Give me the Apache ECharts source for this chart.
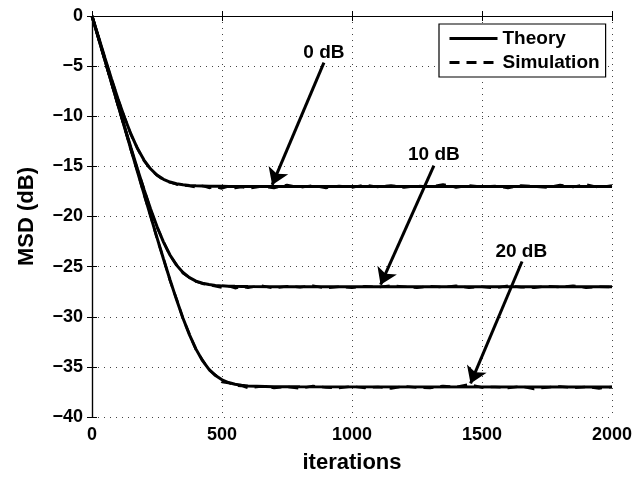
<!DOCTYPE html>
<html>
<head>
<meta charset="utf-8">
<script src="https://cdn.jsdelivr.net/npm/echarts@6/dist/echarts.min.js"></script>
<style>
html,body{margin:0;padding:0;background:#fff;}
#c{width:644px;height:479px;}
</style>
</head>
<body>
<div id="c"></div>
<script>
// ---- data ----
var xTicks = [0, 500, 1000, 1500, 2000];
var yTicks = [0, -5, -10, -15, -20, -25, -30, -35, -40];

var theoryIter = [0,25,50,75,100,125,150,175,200,225,250,275,300,325,350,375,400,425,450,475,500,525,550,575,600,700,800,2000];
var theory0dB  = [0,-2.08,-4.21,-6.29,-8.27,-10.13,-11.79,-13.22,-14.37,-15.24,-15.87,-16.29,-16.56,-16.73,-16.84,-16.90,-16.94,-16.96,-16.98,-16.99,-16.99,-17.00,-17.00,-17.00,-17.00,-17.00,-17.00,-17.00];
var theory10dB = [0,-2.21,-4.43,-6.64,-8.83,-11.01,-13.17,-15.27,-17.31,-19.23,-21.00,-22.55,-23.84,-24.85,-25.59,-26.10,-26.44,-26.66,-26.79,-26.87,-26.92,-26.95,-26.97,-26.98,-26.99,-27.00,-27.00,-27.00];
var theory20dB = [0,-2.22,-4.45,-6.67,-8.89,-11.11,-13.33,-15.54,-17.75,-19.94,-22.11,-24.24,-26.31,-28.29,-30.15,-31.81,-33.23,-34.38,-35.25,-35.87,-36.29,-36.56,-36.73,-36.84,-36.90,-36.98,-36.99,-37.00];

var simIter = [0,25,50,75,100,125,150,175,200,225,250,275,300,325,350,375,400,425,450,475,500,525,550,575,600,
  650,700,750,800,850,900,950,1000,1050,1100,1150,1200,1250,1300,1350,1400,1450,1500,1550,1600,1650,1700,1750,1800,1850,1900,1950,2000];
var sim0dB = [0,-2.1,-4.25,-6.3,-8.3,-10.1,-11.85,-13.2,-14.45,-15.3,-15.9,-16.35,-16.6,-16.8,-16.9,-16.95,-17.1,-16.95,-17.15,-17.05,-17.2,-17.0,-17.15,-17.05,-17.2,
  -17.0,-17.15,-16.85,-17.1,-16.9,-17.15,-16.95,-17.1,-16.85,-17.05,-16.9,-17.1,-16.95,-17.05,-16.8,-17.1,-16.9,-17.05,-16.95,-17.15,-16.9,-17.0,-17.1,-16.85,-17.05,-16.8,-17.1,-16.9];
var sim10dB = [0,-2.25,-4.4,-6.7,-8.8,-11.05,-13.2,-15.3,-17.25,-19.3,-21.05,-22.5,-23.9,-24.8,-25.65,-26.1,-26.5,-26.7,-26.85,-26.95,-27.1,-26.95,-27.15,-27.0,-27.1,
  -26.9,-27.15,-26.95,-27.05,-26.9,-27.15,-27.0,-27.1,-26.95,-27.05,-26.9,-27.0,-27.1,-26.95,-27.05,-26.9,-27.1,-27.0,-27.15,-26.9,-27.05,-27.1,-26.95,-27.05,-26.9,-27.1,-27.0,-27.05];
var sim20dB = [0,-2.2,-4.5,-6.65,-8.95,-11.1,-13.4,-15.5,-17.8,-19.9,-22.2,-24.2,-26.4,-28.2,-30.2,-31.75,-33.3,-34.3,-35.3,-35.8,-36.5,-36.6,-36.85,-36.9,-37.1,
  -36.95,-37.1,-37.0,-37.15,-36.9,-37.05,-37.1,-36.95,-37.1,-37.0,-37.15,-36.95,-37.05,-37.1,-36.9,-37.0,-36.75,-37.05,-37.0,-37.1,-36.95,-37.2,-37.05,-36.95,-37.1,-37.0,-37.15,-37.0];

var annotText  = ['0 dB', '10 dB', '20 dB'];
var annotTextAt = [[892, -3.66], [1315, -13.86], [1651, -23.5]];
var arrowFrom  = [[892, -4.65], [1315, -14.92], [1654, -24.49]];
var arrowTo    = [[693, -16.85], [1110, -26.8], [1456, -36.65]];

var legendNames = ['Theory', 'Simulation'];

// ---- chart ----
function pairs(xs, ys) { return xs.map(function (x, i) { return [x, ys[i]]; }); }
var FONT = 'Liberation Sans, Arial, Helvetica, sans-serif';
var chart = echarts.init(document.getElementById('c'), null, { renderer: 'canvas' });

function theorySeries(ys) {
  return { type: 'line', name: legendNames[0], data: pairs(theoryIter, ys), showSymbol: false, symbol: 'none',
    lineStyle: { color: '#000', width: 3 }, itemStyle: { color: '#000' }, silent: true, z: 3 };
}
function simSeries(ys) {
  return { type: 'line', name: legendNames[1], data: pairs(simIter, ys), showSymbol: false, symbol: 'none',
    lineStyle: { color: '#000', width: 2.5, type: [10, 7] }, itemStyle: { color: '#000' }, silent: true, z: 4 };
}

var axisLine = { show: true, lineStyle: { color: '#000', width: 1.2 } };
var gridLine = { show: true, lineStyle: { color: '#444', width: 1, type: [1, 5] } };
var tickIn = { show: true, inside: true, length: 5, lineStyle: { color: '#000', width: 1 } };
var labStyle = { color: '#000', fontFamily: FONT, fontWeight: 'bold', fontSize: 18 };

var option = {
  animation: false,
  backgroundColor: '#fff',
  grid: { left: 92, right: 32, top: 16, bottom: 59, containLabel: false },
  legend: {
    data: legendNames, orient: 'vertical', left: 439, top: 24,
    itemWidth: 48, itemHeight: 14, itemGap: 5,
    padding: [5, 6, 5, 9],
    borderColor: '#000', borderWidth: 1.2, backgroundColor: '#fff',
    itemStyle: { opacity: 0 },
    lineStyle: { width: 3 },
    textStyle: { color: '#000', fontFamily: FONT, fontWeight: 'bold', fontSize: 19 },
    selectedMode: false
  },
  xAxis: [{
    type: 'value', min: 0, max: 2000, interval: 500, position: 'bottom',
    name: 'iterations', nameLocation: 'middle', nameGap: 35,
    nameTextStyle: { color: '#000', fontFamily: FONT, fontWeight: 'bold', fontSize: 22 },
    axisLine: axisLine, axisTick: tickIn, splitLine: gridLine,
    axisLabel: Object.assign({ margin: 9, formatter: function (v) { return xTicks.indexOf(v) >= 0 ? String(v) : ''; } }, labStyle)
  }, {
    type: 'value', min: 0, max: 2000, interval: 500, position: 'top',
    axisLine: axisLine, axisTick: tickIn, splitLine: { show: false }, axisLabel: { show: false }
  }],
  yAxis: [{
    type: 'value', min: -40, max: 0, interval: 5, position: 'left',
    name: 'MSD (dB)', nameLocation: 'middle', nameGap: 54, nameRotate: 90,
    nameTextStyle: { color: '#000', fontFamily: FONT, fontWeight: 'bold', fontSize: 22 },
    axisLine: axisLine, axisTick: tickIn, splitLine: gridLine,
    axisLabel: Object.assign({ margin: 9, formatter: function (v) {
      if (yTicks.indexOf(v) < 0) return '';
      return v < 0 ? '\u2212' + Math.abs(v) : String(v);
    } }, labStyle)
  }, {
    type: 'value', min: -40, max: 0, interval: 5, position: 'right',
    axisLine: axisLine, axisTick: tickIn, splitLine: { show: false }, axisLabel: { show: false }
  }],
  series: [
    theorySeries(theory0dB), theorySeries(theory10dB), theorySeries(theory20dB),
    simSeries(sim0dB), simSeries(sim10dB), simSeries(sim20dB),
    {
      type: 'line', name: 'annotations', data: [], silent: true, z: 6,
      markLine: {
        silent: true, animation: false,
        symbol: ['none', 'arrow'], symbolSize: 16,
        lineStyle: { color: '#000', width: 3, type: 'solid' },
        itemStyle: { color: '#000' },
        label: { show: false },
        data: arrowFrom.map(function (p, i) { return [{ coord: p }, { coord: arrowTo[i] }]; })
      },
      markPoint: {
        silent: true, animation: false,
        symbol: 'circle', symbolSize: 1, itemStyle: { color: 'rgba(0,0,0,0)' },
        label: { show: true, position: 'inside', color: '#000', fontFamily: FONT, fontWeight: 'bold', fontSize: 19,
          formatter: function (p) { return p.name; } },
        data: annotText.map(function (t, i) { return { name: t, coord: annotTextAt[i] }; })
      }
    }
  ]
};
chart.setOption(option);
</script>
</body>
</html>
